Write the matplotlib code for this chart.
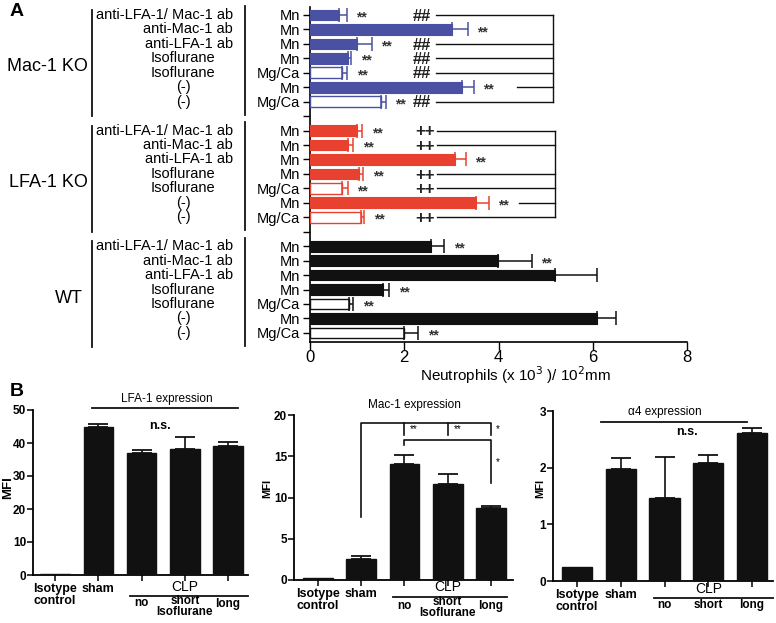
import matplotlib
matplotlib.use('Agg')
import matplotlib.pyplot as plt
from matplotlib.transforms import blended_transform_factory
from matplotlib.lines import Line2D
import numpy as np

plt.rcParams['font.family'] = ['Liberation Sans', 'DejaVu Sans']

# ---------------- Panel A data ----------------
groups = ['Mac-1 KO', 'LFA-1 KO', 'WT']
treatments = ['anti-LFA-1/ Mac-1 ab', 'anti-Mac-1 ab', 'anti-LFA-1 ab',
              'Isoflurane', 'Isoflurane', '(-)', '(-)']
buffers = ['Mn', 'Mn', 'Mn', 'Mn', 'Mg/Ca', 'Mn', 'Mg/Ca']
filled = [True, True, True, True, False, True, False]

mac1ko_mean = [0.62, 3.02, 0.99, 0.81, 0.67, 3.23, 1.51]
mac1ko_err = [0.16, 0.33, 0.32, 0.07, 0.12, 0.24, 0.10]
lfa1ko_mean = [0.99, 0.81, 3.08, 1.05, 0.67, 3.52, 1.08]
lfa1ko_err = [0.12, 0.11, 0.23, 0.08, 0.13, 0.28, 0.07]
wt_mean = [2.56, 3.98, 5.20, 1.54, 0.83, 6.09, 2.00]
wt_err = [0.29, 0.73, 0.89, 0.14, 0.09, 0.41, 0.30]

mac1ko_star = ['**', '**', '**', '**', '**', '**', '**']
lfa1ko_star = ['**', '**', '**', '**', '**', '**', '**']
wt_star = ['**', '**', '', '**', '**', '', '**']
mac1ko_mark = ['##', '', '##', '##', '##', '', '##']
lfa1ko_mark = ['++', '++', '', '++', '++', '', '++']
mac1ko_ref = 5
lfa1ko_ref = 5

# ---------------- Panel B data ----------------
b_cats = ['Isotype\ncontrol', 'sham', 'no', 'short', 'long']
lfa_mfi = [0.4, 44.9, 37.1, 38.2, 39.1]
lfa_mfi_err = [0.0, 0.9, 0.8, 3.5, 1.3]
mac_mfi = [0.3, 2.5, 14.1, 11.6, 8.7]
mac_mfi_err = [0.0, 0.4, 1.1, 1.2, 0.3]
a4_mfi = [0.25, 1.97, 1.46, 2.08, 2.62]
a4_mfi_err = [0.0, 0.20, 0.73, 0.14, 0.08]

W, H = 776, 623
fig = plt.figure(figsize=(W / 100, H / 100), dpi=100)


def rect(l, t, r, b):
    return [l / W, 1 - b / H, (r - l) / W, (b - t) / H]


BLUE = '#4a51a2'
RED = '#e8412f'
BLACK = '#111111'

# ================= Panel A =================
axA = fig.add_axes(rect(310, 7, 687, 342))
group_data = [
    (mac1ko_mean, mac1ko_err, mac1ko_star, BLUE),
    (lfa1ko_mean, lfa1ko_err, lfa1ko_star, RED),
    (wt_mean, wt_err, wt_star, BLACK),
]
bh = 0.74
tick_pos = []
tick_lab = []
row_of = []
for gi, (means, errs, stars, col) in enumerate(group_data):
    rows = []
    for i in range(7):
        r = gi * 8 + i
        rows.append(r)
        if filled[i]:
            axA.barh(r, means[i], height=bh, color=col, edgecolor=col, lw=0.8, zorder=3)
        else:
            axA.barh(r, means[i], height=bh, color='white', edgecolor=col, lw=1.0, zorder=3)
        axA.errorbar(means[i], r, xerr=[[0], [errs[i]]], fmt='none', ecolor=col,
                     elinewidth=1.1, capsize=5, capthick=1.1, zorder=4)
        if stars[i]:
            axA.text(means[i] + errs[i] + 0.2, r + 0.18, stars[i], fontsize=10,
                     fontweight='bold', color='#333333', ha='left', va='center', zorder=5)
        tick_pos.append(r)
        tick_lab.append(buffers[i])
    row_of.append(rows)
    if gi < 2:
        tick_pos.append(gi * 8 + 7)
        tick_lab.append('')

# comparison marks and bracket lines
for rows, marks, ref, mx, xs, xe, xref in [
        (row_of[0], mac1ko_mark, mac1ko_ref, 2.38, 2.67, 5.16, 4.4),
        (row_of[1], lfa1ko_mark, lfa1ko_ref, 2.43, 2.69, 5.20, 4.44)]:
    used = []
    for i, r in enumerate(rows):
        if marks[i]:
            axA.text(mx, r + 0.08, marks[i], fontsize=12, fontweight='bold',
                     color='#222222', ha='center', va='center')
            axA.plot([xs, xe], [r, r], color=BLACK, lw=1.0, clip_on=False)
            used.append(r)
        elif i == ref:
            axA.plot([xref, xe], [r, r], color=BLACK, lw=1.0, clip_on=False)
            used.append(r)
    axA.plot([xe, xe], [min(used), max(used)], color=BLACK, lw=1.0, clip_on=False)

axA.set_xlim(0, 8)
axA.set_ylim(22.63, -0.55)
axA.set_xticks([0, 2, 4, 6, 8])
axA.set_xticklabels(['0', '2', '4', '6', '8'], fontsize=12)
axA.set_yticks(tick_pos)
axA.set_yticklabels(tick_lab, fontsize=10.5)
axA.tick_params(axis='y', length=5, width=1, pad=2)
axA.tick_params(axis='x', length=6, width=1, pad=0)
for s in ['top', 'right']:
    axA.spines[s].set_visible(False)
for s in ['left', 'bottom']:
    axA.spines[s].set_linewidth(1.2)

trA = blended_transform_factory(fig.transFigure, axA.transData)
grp_label_x = [88, 88, 83]
for gi, g in enumerate(groups):
    base = gi * 8
    axA.text(grp_label_x[gi] / W, base + 3.6, g, fontsize=13, ha='right', va='center',
             transform=trA, clip_on=False)
    axA.add_line(Line2D([92 / W, 92 / W], [base - 0.35, base + 7.0], transform=trA,
                        color=BLACK, lw=1.3, clip_on=False))
    axA.add_line(Line2D([245 / W, 245 / W], [base - 0.6, base + 6.9], transform=trA,
                        color=BLACK, lw=1.3, clip_on=False))
    for i, t in enumerate(treatments):
        if t.endswith('ab'):
            axA.text(233 / W, base + i, t, fontsize=10.5, ha='right', va='center',
                     transform=trA, clip_on=False)
        else:
            axA.text(183 / W, base + i, t, fontsize=10.5, ha='center', va='center',
                     transform=trA, clip_on=False)

fig.text(516 / W, 1 - 375 / H, 'Neutrophils (x 10$^{3}$ )/ 10$^{2}$mm', fontsize=11,
         ha='center', va='center')
fig.text(10 / W, 1 - 12 / H, 'A', fontsize=14, fontweight='bold', ha='left', va='center')
fig.text(10 / W, 1 - 391 / H, 'B', fontsize=14, fontweight='bold', ha='left', va='center')


# ================= Panel B =================
def bar_panel(box, vals, errs, ylim, yticks, xlim, width, mfi_x, mfi_size, tick_fs):
    ax = fig.add_axes(rect(*box))
    x = np.arange(len(vals))
    ax.bar(x, vals, width=width, color=BLACK, edgecolor=BLACK, zorder=3)
    ax.errorbar(x[1:], np.array(vals[1:]), yerr=[np.zeros(len(vals) - 1), np.array(errs[1:])],
                fmt='none', ecolor=BLACK, elinewidth=1.2, capsize=7, capthick=1.3, zorder=2)
    ax.set_ylim(*ylim)
    ax.set_xlim(*xlim)
    ax.set_yticks(yticks)
    ax.set_yticklabels([str(v) for v in yticks], fontsize=tick_fs, fontweight='bold')
    ax.set_xticks(x)
    ax.set_xticklabels(['Isotype\ncontrol', 'sham', '', '', ''], fontsize=9,
                       fontweight='bold', linespacing=1.0, va='top')
    ax.tick_params(axis='both', length=4, width=1.1, pad=2)
    ax.tick_params(axis='y', pad=1)
    for s in ['top', 'right']:
        ax.spines[s].set_visible(False)
    for s in ['left', 'bottom']:
        ax.spines[s].set_linewidth(1.3)
    fig.text(mfi_x / W, 1 - 488 / H, 'MFI', rotation=90, fontsize=mfi_size,
             fontweight='bold', ha='center', va='center')
    return ax


def clp_labels(ax, clp_y, line_y, line_x0, line_x1, sub_y, iso_y):
    tr = blended_transform_factory(ax.transData, fig.transFigure)
    ax.text(3, 1 - clp_y / H, 'CLP', fontsize=10, ha='center',
            va='center', transform=tr, clip_on=False)
    ax.add_line(Line2D([line_x0, line_x1], [1 - line_y / H] * 2, transform=tr,
                       color=BLACK, lw=1.3, clip_on=False))
    for xi, lab in zip([2, 3, 4], ['no', 'short', 'long']):
        ax.text(xi, 1 - sub_y[xi - 2] / H, lab, fontsize=8.5, fontweight='bold',
                ha='center', va='center', transform=tr, clip_on=False)
    if iso_y is not None:
        ax.text(3, 1 - iso_y / H, 'Isoflurane', fontsize=8.5, fontweight='bold',
                ha='center', va='center', transform=tr, clip_on=False)


# B1: LFA-1
ax1 = bar_panel((33, 410, 248, 575), lfa_mfi, lfa_mfi_err, (0, 50), [0, 10, 20, 30, 40, 50],
                (-0.51, 4.46), 0.68, 8, 9.5, 8.5)
ax1.plot([0.85, 4.23], [50.6, 50.6], color=BLACK, lw=1.3, clip_on=False)
ax1.text(2.59, 53.4, 'LFA-1 expression', fontsize=8.5, ha='center',
         va='center', clip_on=False)
ax1.text(2.42, 45.3, 'n.s.', fontsize=9, fontweight='bold',
         ha='center', va='center')
clp_labels(ax1, 587, 596, 1.73, 4.46, [603, 601, 604], 612)

# B2: Mac-1
ax2 = bar_panel((294, 415, 513, 580), mac_mfi, mac_mfi_err, (0, 20), [0, 5, 10, 15, 20],
                (-0.555, 4.51), 0.69, 267, 8, 8.5)
ax2.plot([1, 1, 4, 4], [7.6, 19.0, 19.0, 17.6], color=BLACK, lw=1.2, clip_on=False)
ax2.plot([2, 2], [19.0, 17.6], color=BLACK, lw=1.2)
ax2.plot([3, 3], [19.0, 17.6], color=BLACK, lw=1.2)
ax2.plot([2, 2, 4, 4], [16.4, 17.0, 17.0, 11.8], color=BLACK, lw=1.2)
ax2.text(2.12, 18.3, '**', fontsize=7, ha='left', va='center')
ax2.text(3.15, 18.3, '**', fontsize=7, ha='left', va='center')
ax2.text(4.12, 18.3, '*', fontsize=7, ha='left', va='center')
ax2.text(4.12, 14.3, '*', fontsize=7, ha='left', va='center')
ax2.text(2.24, 21.2, 'Mac-1 expression', fontsize=8.5, ha='center',
         va='center', clip_on=False)
clp_labels(ax2, 587, 597, 1.73, 4.37, [606, 602, 606], 613)

# B3: alpha4
ax3 = bar_panel((553, 411, 773, 581), a4_mfi, a4_mfi_err, (0, 3), [0, 1, 2, 3],
                (-0.55, 4.48), 0.69, 540, 8, 8.5)
ax3.plot([0.55, 3.89], [2.81, 2.81], color=BLACK, lw=1.3, clip_on=False)
ax3.text(2.0, 2.985, '\u03b14 expression', fontsize=8.5, ha='center',
         va='center', clip_on=False)
ax3.text(2.51, 2.63, 'n.s.', fontsize=9, fontweight='bold',
         ha='center', va='center')
clp_labels(ax3, 589, 598, 1.76, 4.48, [605, 605, 605], None)

fig.savefig('out.png', dpi=100)
